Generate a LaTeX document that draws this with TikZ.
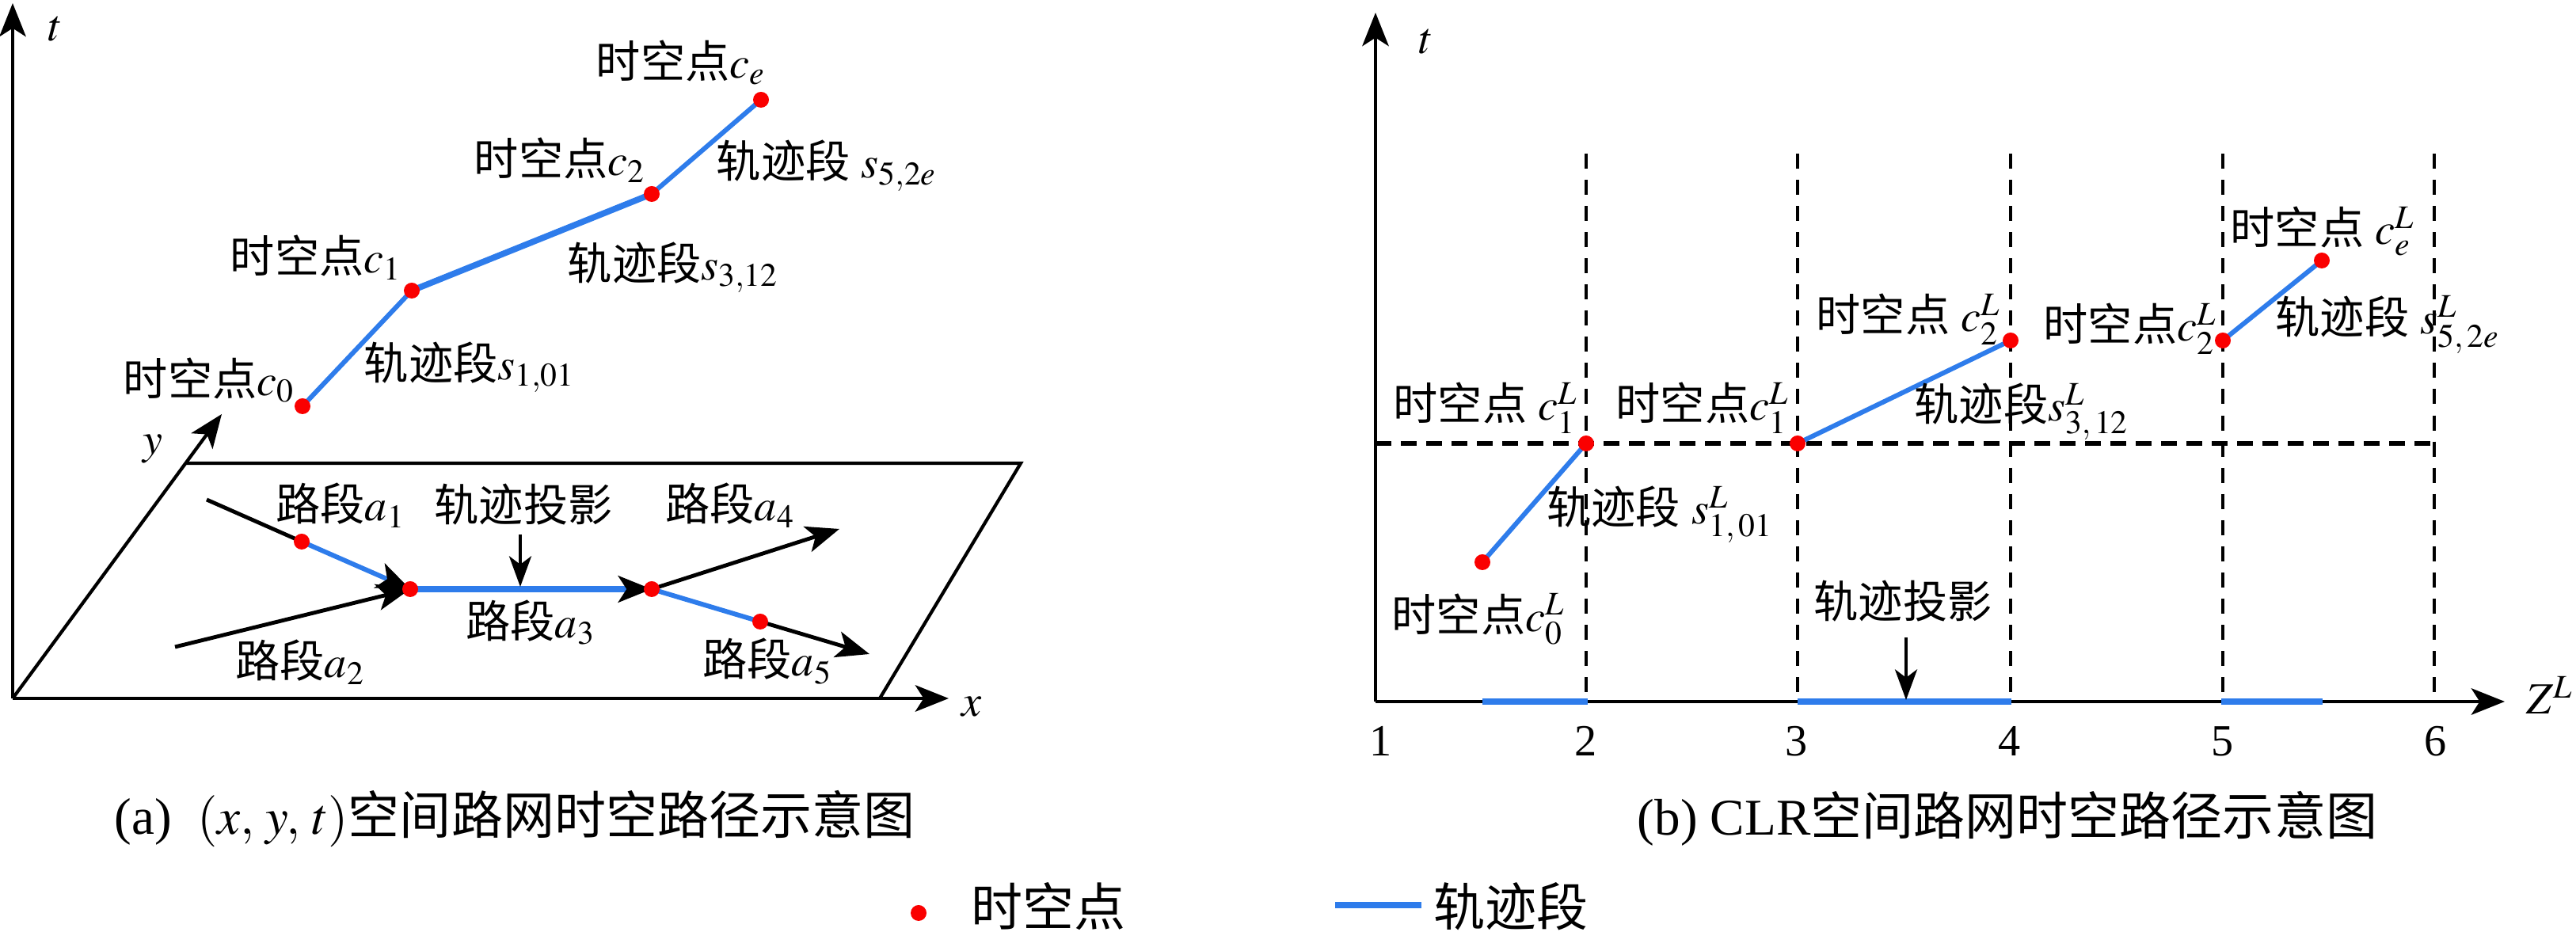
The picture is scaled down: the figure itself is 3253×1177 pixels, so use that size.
\documentclass[tikz,border=0pt]{standalone}
\usepackage{mathptmx}
\usepackage{fontspec}
\setmainfont{Liberation Serif}
\newfontfamily\cjk{Noto Sans CJK SC}
\usetikzlibrary{arrows.meta}
\definecolor{trajblue}{RGB}{46,124,235}
\definecolor{ptred}{RGB}{250,0,0}
\begin{document}
\begin{tikzpicture}[x=0.01cm,y=-0.01cm,
  lab/.style={font=\fontsize{16}{19}\selectfont, inner sep=0pt},
  captxt/.style={font=\fontsize{18.5}{22}\selectfont, inner sep=0pt},
  axis/.style={line width=1.2pt, -{Stealth[length=12pt,width=9.5pt,inset=3pt]}},
  road/.style={line width=1.4pt, -{Stealth[length=12pt,width=9.5pt,inset=3pt]}},
  roadline/.style={line width=1.4pt},
  blueroad/.style={trajblue, line width=1.7pt, -{Stealth[length=12pt,width=9.5pt,inset=3pt,color=black]}},
  pointer/.style={line width=1pt, -{Stealth[length=11pt,width=8pt,inset=3pt]}},
  traj/.style={trajblue, line width=1.7pt},
  proj/.style={trajblue, line width=2.1pt},
  dot/.style={circle, fill=ptred, inner sep=0pt, minimum size=0.2cm},
  vgrid/.style={line width=1.1pt, dash pattern=on 5.4pt off 4pt},
  hgrid/.style={line width=1.8pt, dash pattern=on 5.7pt off 3.4pt},
]
\useasboundingbox (0,0) rectangle (3253,1177);

% ================= (a) left panel =================
\coordinate (LO) at (16,882);
\coordinate (LT) at (16,4);
\coordinate (LX) at (1198,882);
\coordinate (LY) at (280,523);
\coordinate (P1) at (234,585);
\coordinate (P2) at (1289,585);
\coordinate (P3) at (1111,882);
\draw[axis] (LO) -- (LT);
\draw[axis] (LO) -- (LX);
\draw[axis] (LO) -- (LY);
\draw[line width=1.2pt] (P1) -- (P2) -- (P3);
\node[lab] (lt) at (70,37) {$t$};
\node[lab] (lx) at (1227,893) {$x$};
\node[lab] (ly) at (193,567) {$y$};

% trajectory in (x,y,t)
\coordinate (c0) at (382,513);
\coordinate (c1) at (520,367);
\coordinate (c2) at (823,245);
\coordinate (ce) at (961,126);
\draw[traj] (c0) -- (c1);
\draw[traj, line width=2.2pt] (c1) -- (c2);
\draw[traj] (c2) -- (ce);

% road network in plane
\coordinate (a1s) at (261,631);
\coordinate (r1) at (381,684);
\coordinate (n1) at (518,744);
\coordinate (a2s) at (221,817);
\coordinate (n2) at (823,744);
\coordinate (a4e) at (1060,668);
\coordinate (r5) at (960,785);
\coordinate (a5e) at (1098,826);
\coordinate (pjs) at (657,675);
\coordinate (pje) at (657,741);
\draw[roadline] (a1s) -- (r1);
\draw[blueroad] (r1) -- (n1);
\draw[road] (a2s) -- (n1);
\draw[blueroad, line width=2pt] (n1) -- (n2);
\draw[road] (n2) -- (a4e);
\draw[traj] (n2) -- (r5);
\draw[road] (r5) -- (a5e);
\draw[pointer] (pjs) -- (pje);

\foreach \p in {c0,c1,c2,ce,r1,n1,n2,r5} \node[dot] at (\p) {};

\node[lab] (tce) at (860,79) {{\cjk 时空点}$c_e$};
\node[lab] (tc2) at (707,202) {{\cjk 时空点}$c_2$};
\node[lab] (tc1) at (399,325) {{\cjk 时空点}$c_1$};
\node[lab] (tc0) at (264,480) {{\cjk 时空点}$c_0$};
\node[lab] (ts5) at (1044,209) {{\cjk 轨迹段} $s_{5,2e}$};
\node[lab] (ts3) at (850,338) {{\cjk 轨迹段}$s_{3,12}$};
\node[lab] (ts1) at (593,464) {{\cjk 轨迹段}$s_{1,01}$};

\node[lab] (tproj) at (661,637) {\cjk 轨迹投影};
\node[lab] (ta1) at (430,638) {{\cjk 路段}$a_1$};
\node[lab] (ta4) at (922,638) {{\cjk 路段}$a_4$};
\node[lab] (ta3) at (670,786) {{\cjk 路段}$a_3$};
\node[lab] (ta2) at (379,836) {{\cjk 路段}$a_2$};
\node[lab] (ta5) at (969,835) {{\cjk 路段}$a_5$};

% ================= (b) right panel =================
\coordinate (RO) at (1737,886);
\coordinate (RT) at (1737,16);
\coordinate (RZ) at (3163,886);
\foreach \gx in {2003,2270,2539,2807,3074} \draw[vgrid] (\gx,194) -- (\gx,886);
\draw[hgrid] (1737,560) -- (3074,560);
\draw[axis] (RO) -- (RT);
\draw[axis] (RO) -- (RZ);
\draw[proj] (1872,886) -- (2005,886);
\draw[proj] (2270,886) -- (2540,886);
\draw[proj] (2805,886) -- (2933,886);
\node[lab] (rt) at (1801,53) {$t$};
\node[lab, anchor=west] (rz) at (3190,878) {$Z^{L}$};
\foreach \v/\gx in {1/1744,2/2003,3/2269,4/2538,5/2807,6/3076}
  \node[lab] (tick\v) at (\gx,936) {\v};

\coordinate (q0) at (1872,710);
\coordinate (q1) at (2003,560);
\coordinate (q1b) at (2270,560);
\coordinate (q2) at (2539,430);
\coordinate (q2b) at (2807,430);
\coordinate (qe) at (2932,329);
\draw[traj] (q0) -- (q1);
\draw[traj] (q1b) -- (q2);
\draw[traj] (q2b) -- (qe);
\coordinate (rpjs) at (2407,805);
\coordinate (rpje) at (2407,884);
\draw[pointer] (rpjs) -- (rpje);
\foreach \p in {q0,q1,q1b,q2,q2b,qe} \node[dot] at (\p) {};

\node[lab] (rc1a) at (1876,515) {{\cjk 时空点} $c^{L}_{1}$};
\node[lab] (rc1b) at (2150,515) {{\cjk 时空点}$c^{L}_{1}$};
\node[lab] (rc2a) at (2410,403) {{\cjk 时空点} $c^{L}_{2}$};
\node[lab] (rc2b) at (2690,415) {{\cjk 时空点}$c^{L}_{2}$};
\node[lab] (rce) at (2933,292) {{\cjk 时空点} $c^{L}_{e}$};
\node[lab] (rs5) at (3015,410) {{\cjk 轨迹段} $s^{L}_{5,\,2e}$};
\node[lab] (rs3) at (2553,520) {{\cjk 轨迹段}$s^{L}_{3,\,12}$};
\node[lab] (rs1) at (2096,650) {{\cjk 轨迹段} $s^{L}_{1,\,01}$};
\node[lab] (rc0) at (1867,782) {{\cjk 时空点}$c^{L}_{0}$};
\node[lab] (rproj) at (2403,759) {\cjk 轨迹投影};

% ================= captions and legend =================
\node[captxt] (capa) at (650,1034) {(a)\hspace{0.5em}$(x,\,y,\,t)${\cjk 空间路网时空路径示意图}};
\node[captxt] (capb) at (2535,1034) {(b) CLR{\cjk 空间路网时空路径示意图}};
\node[dot] (legdot) at (1160,1153) {};
\node[captxt] (legdott) at (1324,1145) {\cjk 时空点};
\coordinate (lb1) at (1686,1143);
\coordinate (lb2) at (1795,1143);
\draw[traj, line width=2.2pt] (lb1) -- (lb2);
\node[captxt] (legline) at (1908,1145) {\cjk 轨迹段};
\end{tikzpicture}
\end{document}
